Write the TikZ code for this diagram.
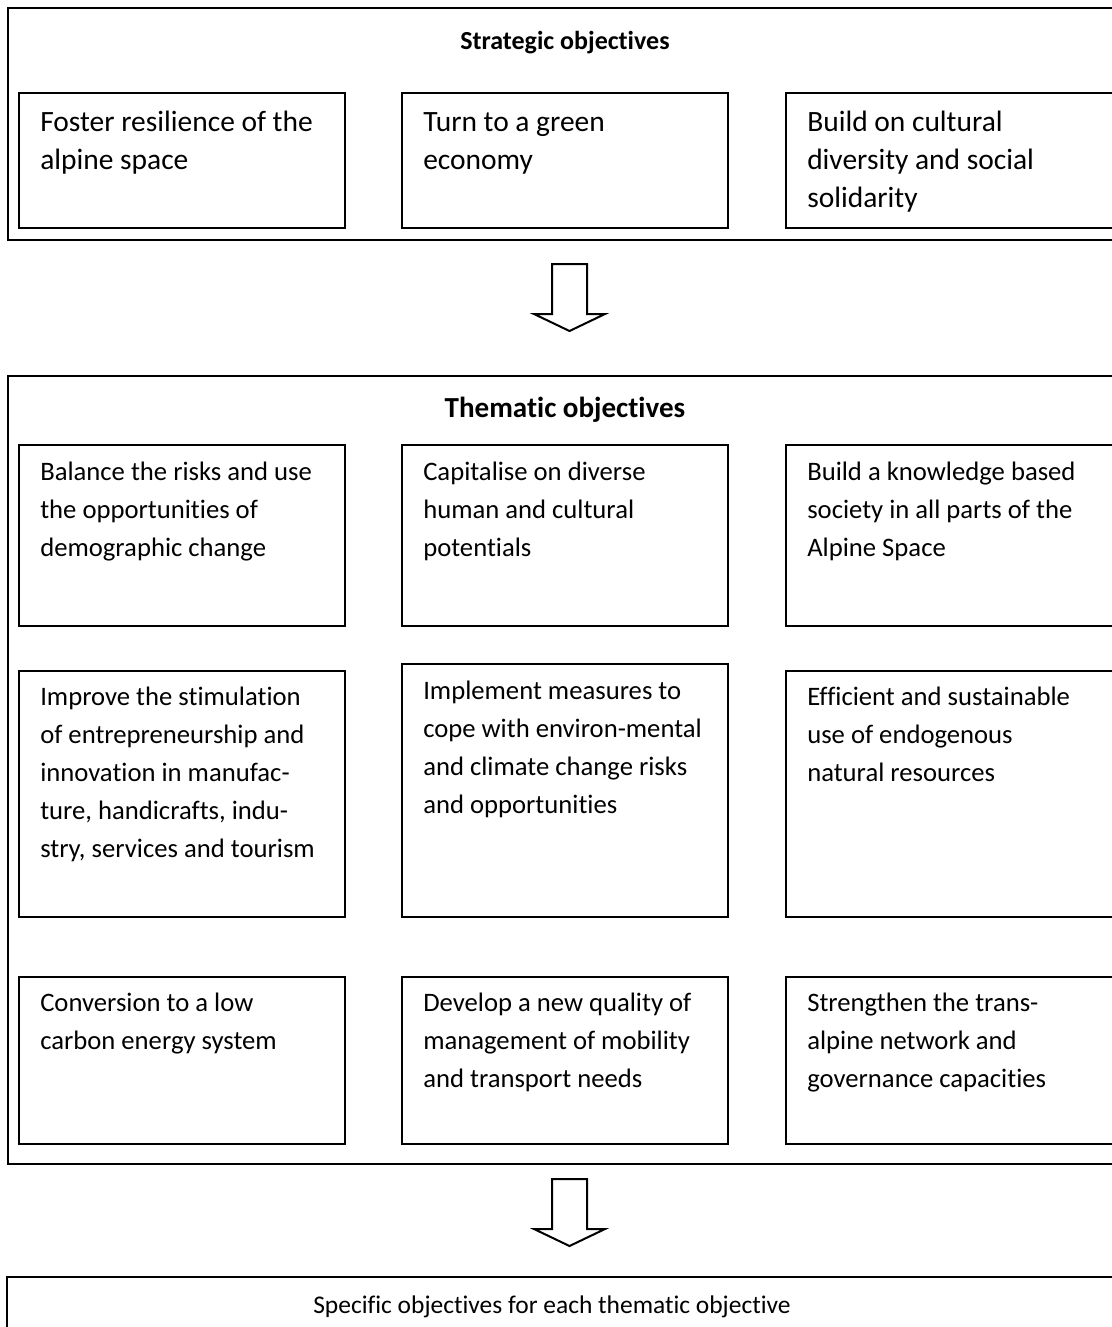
\documentclass[tikz,border=0pt]{standalone}
\usepackage{fontspec}
\setmainfont{Carlito}[Ligatures={NoCommon,NoRequired,NoContextual}, RawFeature={-liga;-clig;-dlig}]
\usetikzlibrary{calc}

% One unit is one pixel of the layout grid (0.75pt), y grows downwards.
\tikzset{
  pxbox/.style n args={2}{draw, line width=1.5pt, rectangle, anchor=north west,
    inner sep=0pt, outer sep=0pt,
    minimum width={#1*0.75pt}, minimum height={#2*0.75pt}},
  boxtext/.style={anchor=north west, inner sep=0pt, align=left,
    font=\fontsize{20}{28.5}\selectfont},
  bigtext/.style={boxtext, font=\fontsize{22.1}{28.5}\selectfont},
  headline/.style={anchor=base, inner sep=0pt,
    font=\fontsize{19.5}{28.5}\selectfont\bfseries},
  plainline/.style={anchor=base west, inner sep=0pt,
    font=\fontsize{19.1}{28.5}\selectfont},
  blockarrow/.style={draw, line width=1.5pt, fill=white, line join=miter}
}

% \objbox[text style]{name}{left}{top}{width}{height}{text offset}{text}
\newcommand{\objbox}[8][boxtext]{%
  \node[pxbox={#5}{#6}] (#2) at (#3,#4) {};
  \node[#1] (#2-t) at (#3+21,#4+#7) {\strut #8};
}

% downward block arrow hanging from a named coordinate at the top of its shaft
\newcommand{\downarrowat}[1]{%
  \draw[blockarrow] (#1) ++(-17.5,0) -- ++(35,0) -- ++(0,50) -- ++(18,0)
    -- ++(-35.5,17) -- ++(-35.5,-17) -- ++(18,0) -- cycle;
}

\begin{document}
\begin{tikzpicture}[x=0.75pt, y=-0.75pt]
  \useasboundingbox[fill=white] (0,0) rectangle (1112,1327);

  % Strategic objectives
  \node[pxbox={1116}{232}] (strategic) at (8,8) {};
  \node[headline] (strategic-title) at (565,50) {Strategic objectives};
  \objbox[bigtext]{s1}{19}{93}{326}{135}{12}{Foster resilience of the\\alpine space}
  \objbox[bigtext]{s2}{402}{93}{326}{135}{12}{Turn to a green\\economy}
  \objbox[bigtext]{s3}{786}{93}{330}{135}{12}{Build on cultural\\diversity and social\\solidarity}

  \coordinate (arrow1) at (569.5,264);
  \downarrowat{arrow1}

  % Thematic objectives
  \node[pxbox={1116}{788}] (thematic) at (8,376) {};
  \node[headline, font=\fontsize{21.8}{28.5}\selectfont\bfseries] (thematic-title) at (565,417) {Thematic objectives};

  \objbox{t1}{19}{445}{326}{181}{8.5}{Balance the risks and use\\the opportunities of\\demographic change}
  \objbox{t2}{402}{445}{326}{181}{8.5}{Capitalise on diverse\\human and cultural\\potentials}
  \objbox{t3}{786}{445}{330}{181}{8.5}{Build a knowledge based\\society in all parts of the\\Alpine Space}

  \objbox{t4}{19}{671}{326}{246}{8}{Improve the stimulation\\of entrepreneurship and\\innovation in manufac-\\ture, handicrafts, indu-\\stry, services and tourism}
  \objbox{t5}{402}{664}{326}{253}{9}{Implement measures to\\cope with environ-mental\\and climate change risks\\and opportunities}
  \objbox{t6}{786}{671}{330}{246}{8}{Efficient and sustainable\\use of endogenous\\natural resources}

  \objbox{t7}{19}{977}{326}{167}{8}{Conversion to a low\\carbon energy system}
  \objbox{t8}{402}{977}{326}{167}{8}{Develop a new quality of\\management of mobility\\and transport needs}
  \objbox{t9}{786}{977}{330}{167}{8}{Strengthen the trans-\\alpine network and\\governance capacities}

  \coordinate (arrow2) at (569.5,1179);
  \downarrowat{arrow2}

  % Specific objectives
  \node[pxbox={1117}{70}] (specific) at (7,1277) {};
  \node[plainline] (specific-t) at (313,1313) {Specific objectives for each thematic objective};
\end{tikzpicture}
\end{document}
